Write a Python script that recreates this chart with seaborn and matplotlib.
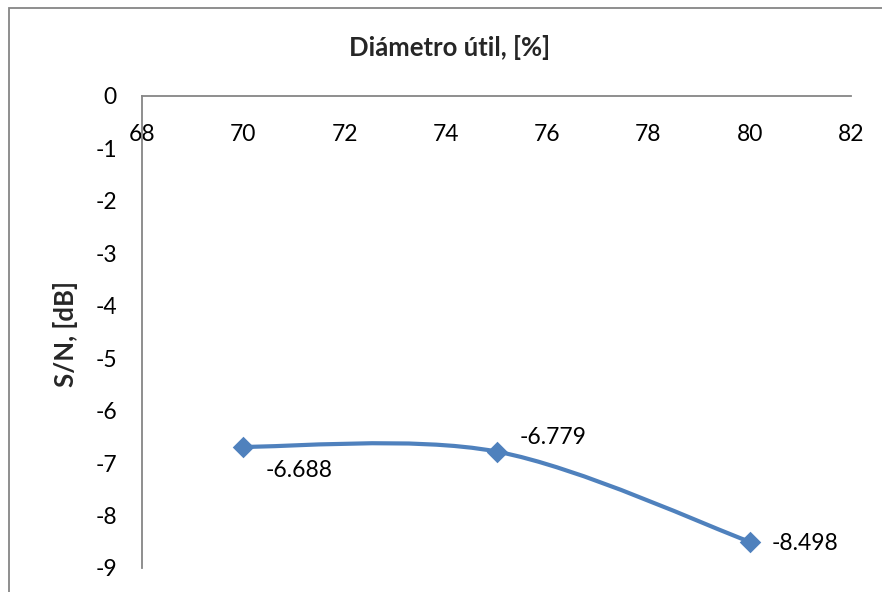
import matplotlib
matplotlib.use("Agg")
import matplotlib.pyplot as plt
from matplotlib.path import Path
from matplotlib.patches import PathPatch, Rectangle
import seaborn as sns
import pandas as pd

# data
diametro = [70, 75, 80]
sn_db = [-6.688, -6.779, -8.498]
etiquetas = ["-6.688", "-6.779", "-8.498"]
x_ticks = [68, 70, 72, 74, 76, 78, 80, 82]
y_ticks = [0, -1, -2, -3, -4, -5, -6, -7, -8, -9]

sns.set_style("white")
plt.rcParams["font.family"] = ["Lato", "DejaVu Sans"]

blue = "#4F81BD"
grey = "#868686"

df = pd.DataFrame({"x": diametro, "y": sn_db})

fig = plt.figure(figsize=(8.82, 5.92), dpi=100)
ax = fig.add_axes([142 / 882, 1 - 568 / 592, (851 - 142) / 882, (568 - 96) / 592])

# smoothed line like Excel (cardinal spline -> bezier segments)
pts = list(zip(diametro, sn_db))
verts = [pts[0]]
codes = [Path.MOVETO]
for i in range(len(pts) - 1):
    p0 = pts[i - 1] if i > 0 else pts[i]
    p1 = pts[i]
    p2 = pts[i + 1]
    p3 = pts[i + 2] if i + 2 < len(pts) else pts[i + 1]
    c1 = (p1[0] + (p2[0] - p0[0]) / 6, p1[1] + (p2[1] - p0[1]) / 6)
    c2 = (p2[0] - (p3[0] - p1[0]) / 6, p2[1] - (p3[1] - p1[1]) / 6)
    verts += [c1, c2, p2]
    codes += [Path.CURVE4] * 3
ax.add_patch(PathPatch(Path(verts, codes), facecolor="none", edgecolor=blue,
                       lw=3, capstyle="round", zorder=2))

sns.scatterplot(data=df, x="x", y="y", marker="D", s=120, color=blue,
                edgecolor=blue, linewidth=0, ax=ax, zorder=3)

offsets = [(40, -17), (41, 10), (40, -1)]
for x, y, t, off in zip(diametro, sn_db, etiquetas, offsets):
    ax.annotate(t, (x, y), xytext=off, textcoords="offset points",
                ha="center", va="center", fontsize=16.5, color="black")

ax.set_xlim(68, 82)
ax.set_ylim(-9, 0)
ax.set_xticks(x_ticks)
ax.set_yticks(y_ticks)
ax.set_xticklabels([str(v) for v in x_ticks])
ax.set_yticklabels([str(v) for v in y_ticks])

ax.spines["right"].set_visible(False)
ax.spines["top"].set_visible(False)
ax.spines["bottom"].set_position(("data", 0))
for s in ["left", "bottom"]:
    ax.spines[s].set_color(grey)
    ax.spines[s].set_linewidth(1.3)

ax.tick_params(axis="x", direction="out", length=5, width=1.3, color=grey,
               pad=15.5, labelsize=16.5, labelcolor="black")
ax.tick_params(axis="y", direction="in", length=5, width=1.3, color=grey,
               pad=18, labelsize=16.5, labelcolor="black")

ax.set_xlabel("")
ax.set_ylabel("")
fig.text(66 / 882, 1 - 334 / 592, "S/N, [dB]", rotation=90, ha="center",
         va="center", fontsize=18.5, fontweight="bold")
fig.text(450 / 882, 1 - 47 / 592, "Diámetro útil, [%]", ha="center",
         va="center", fontsize=18.5, fontweight="bold")

# chart area border (cropped on right and bottom)
fig.patches.append(Rectangle((9 / 882, -0.1), 1.1, 1 - 8 / 592 + 0.1,
                             transform=fig.transFigure, fill=False,
                             edgecolor=grey, lw=1.3))

fig.savefig("out.png", dpi=100)
